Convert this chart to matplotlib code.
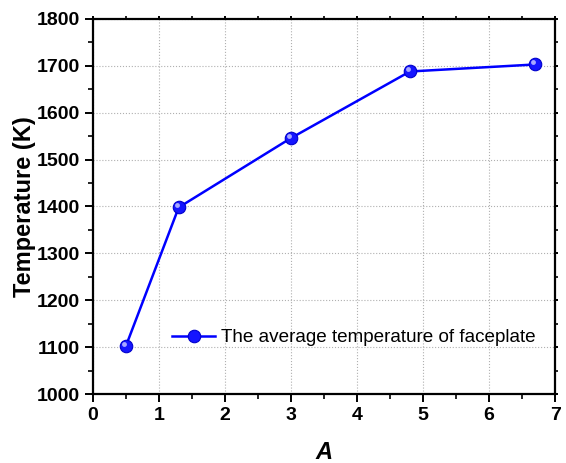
import matplotlib
matplotlib.use("Agg")
import matplotlib.pyplot as plt
import matplotlib.transforms as mtrans
from matplotlib.ticker import MultipleLocator

A_values = [0.5, 1.3, 3.0, 4.8, 6.7]
temperature = [1102, 1398, 1546, 1688, 1703]
series_label = "The average temperature of faceplate"

plt.rcParams['font.family'] = ['Liberation Sans', 'DejaVu Sans']

fig = plt.figure(figsize=(5.66, 4.63), dpi=100)
ax = fig.add_axes([0.164, 0.149, 0.817, 0.810])

ax.plot(A_values, temperature, color='#0000ff', lw=1.8, marker='o', ms=9,
        mfc='#1515ff', mec='#0000cc', mew=0.8, label=series_label, zorder=3)
# highlight to imitate the sphere look
ax.plot(A_values, temperature, ls='none', marker='o', ms=3.5, mfc='#a8a8ff',
        mec='none', zorder=4,
        transform=ax.transData + mtrans.ScaledTranslation(-1.5/72, 1.5/72, fig.dpi_scale_trans))

ax.set_xlim(0, 7)
ax.set_ylim(1000, 1800)
ax.xaxis.set_major_locator(MultipleLocator(1))
ax.xaxis.set_minor_locator(MultipleLocator(0.5))
ax.yaxis.set_major_locator(MultipleLocator(100))
ax.yaxis.set_minor_locator(MultipleLocator(50))

ax.grid(True, which='major', color='#b0b0b0', ls=':', lw=0.8)
ax.set_axisbelow(True)

for s in ax.spines.values():
    s.set_linewidth(1.6)

ax.tick_params(which='major', direction='out', length=6, width=1.4,
               labelsize=14, top=True, right=True, labeltop=False, labelright=False)
ax.tick_params(which='minor', direction='out', length=3.5, width=1.2,
               top=True, right=True)
for lab in ax.get_xticklabels() + ax.get_yticklabels():
    lab.set_fontweight('bold')
for t in ax.xaxis.get_major_ticks() + ax.xaxis.get_minor_ticks():
    t.tick2line.set_markersize(2.5)
for t in ax.yaxis.get_major_ticks() + ax.yaxis.get_minor_ticks():
    t.tick2line.set_markersize(2.5)

ax.set_xlabel('A', fontsize=17, fontweight='bold', fontstyle='italic', labelpad=12)
ax.set_ylabel('Temperature (K)', fontsize=17, fontweight='bold', labelpad=0)

ax.legend(loc='center left', bbox_to_anchor=(0.171, 0.15), frameon=False,
          fontsize=13.6, handlelength=2.3, handletextpad=0.3,
          borderpad=0, borderaxespad=0)

fig.savefig('out.png', dpi=100)
